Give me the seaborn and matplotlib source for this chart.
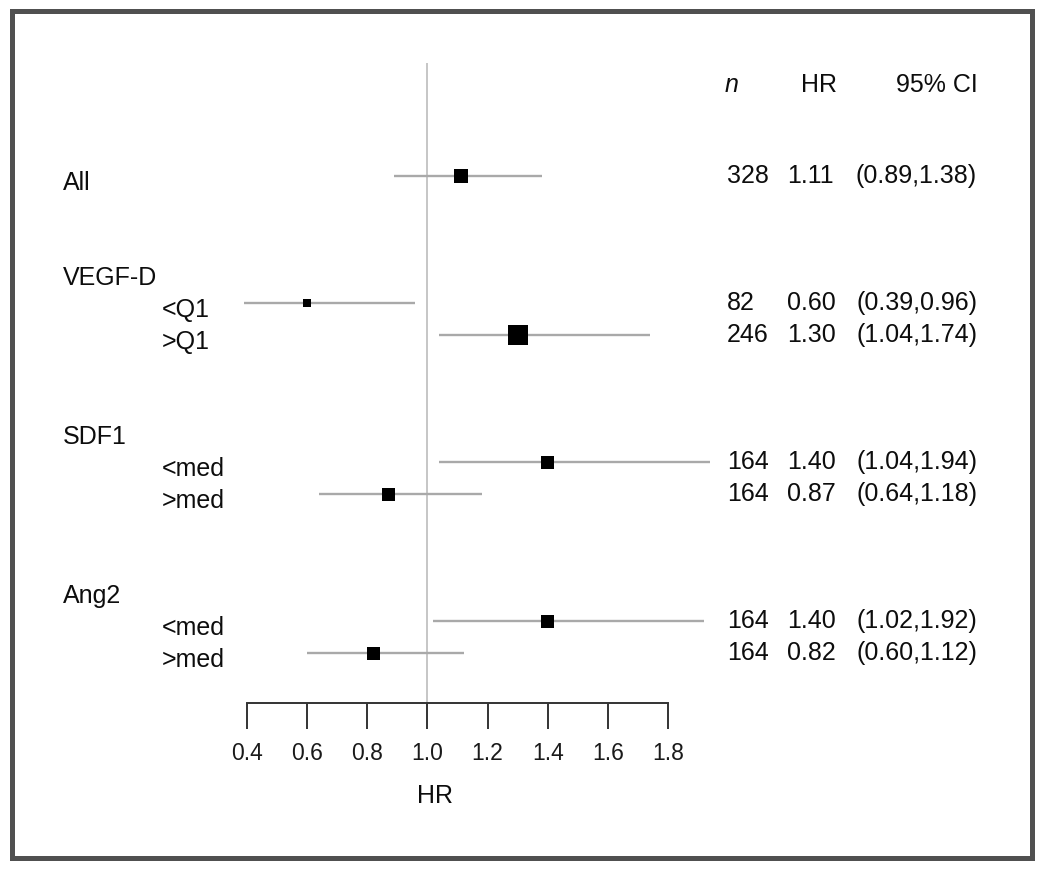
"""Forest plot: hazard ratios by biomarker subgroup."""

import matplotlib
matplotlib.use("Agg")
import matplotlib.pyplot as plt
import matplotlib.transforms as mtransforms
from matplotlib.patches import Rectangle
import numpy as np
import pandas as pd
import seaborn as sns

# ── data ──────────────────────────────────────────────────────────────────────
groups = ["All", "VEGF-D", "SDF1", "Ang2"]
sub_labels = [[], ["<Q1", ">Q1"], ["<med", ">med"], ["<med", ">med"]]
n_pts = [328, 82, 246, 164, 164, 164, 164]
hr = [1.11, 0.60, 1.30, 1.40, 0.87, 1.40, 0.82]
ci_lo = [0.89, 0.39, 1.04, 1.04, 0.64, 1.02, 0.60]
ci_hi = [1.38, 0.96, 1.74, 1.94, 1.18, 1.92, 1.12]
box_weight = [0.70, 0.40, 1.00, 0.65, 0.65, 0.65, 0.65]   # relative box size
x_ticks = [0.4, 0.6, 0.8, 1.0, 1.2, 1.4, 1.6, 1.8]

sns.set_style("white")
plt.rcParams["font.family"] = ["Liberation Sans", "DejaVu Sans"]

W, H = 1050, 875
fig = plt.figure(figsize=(W / 100, H / 100), dpi=100)
# axes spans the HR scale (px 247..668) and the rows (px 63..703)
ax = fig.add_axes([247 / W, (H - 703) / H, 421 / W, 640 / H])

# row layout: "All" first, then each group header followed by its subgroups
row_y, row_lab, head_y, head_lab = [], [], [], []
u = 0
row_y.append(u); row_lab.append("")
head_y.append(u); head_lab.append(groups[0])
for g, subs in zip(groups[1:], sub_labels[1:]):
    u += 3
    head_y.append(u); head_lab.append(g)
    for s in subs:
        u += 1
        row_y.append(u); row_lab.append(s)

df = pd.DataFrame({"hr": hr, "lo": ci_lo, "hi": ci_hi, "n": n_pts,
                   "y": row_y, "lab": row_lab,
                   "area": (np.array(box_weight) * 14.4) ** 2})

# reference line and confidence intervals
ax.axvline(1.0, color="#c6c6c6", lw=1.4, zorder=1)
ax.hlines(df["y"], df["lo"], df["hi"], color="#a9a9a9", lw=1.7, zorder=2, clip_on=False)
sns.scatterplot(data=df, x="hr", y="y", size="area",
                sizes=(df["area"].min(), df["area"].max()), marker="s",
                color="black", linewidth=0, legend=False, ax=ax, zorder=3, clip_on=False)

ax.set_xlim(0.4, 1.8)
ax.set_ylim(16.572, -3.553)
ax.set_yticks([])
ax.set_xticks(x_ticks)
ax.set_xticklabels([f"{t:.1f}" for t in x_ticks], fontsize=16.5, color="#1a1a1a")
ax.tick_params(axis="x", direction="out", length=19, width=1.4, color="#333333", pad=9,
               bottom=True)
for side in ["top", "left", "right"]:
    ax.spines[side].set_visible(False)
ax.spines["bottom"].set_color("#333333")
ax.spines["bottom"].set_linewidth(1.4)
ax.set_xlabel("")
ax.set_ylabel("")
fig.text(435 / W, 1 - 803 / H, "HR", ha="center", va="baseline", fontsize=18, color="#0d0d0d")

# text columns: figure-x, data-y
blend = mtransforms.blended_transform_factory(fig.transFigure, ax.transData)
left_tr = mtransforms.offset_copy(blend, fig=fig, y=-10.0, units="points")
right_tr = mtransforms.offset_copy(blend, fig=fig, y=-5.2, units="points")
kw = dict(fontsize=18, color="#0d0d0d", va="baseline")

for y, lab in zip(head_y, head_lab):
    ax.text(63 / W, y, lab, transform=left_tr, ha="left", **kw)
for _, r in df.iterrows():
    if r["lab"]:
        ax.text(162 / W, r["y"], r["lab"], transform=left_tr, ha="left", **kw)
    ax.text(727 / W, r["y"], f"{r['n']}", transform=right_tr, ha="left", **kw)
    ax.text(787 / W, r["y"], f"{r['hr']:.2f}", transform=right_tr, ha="left", **kw)
    ax.text(977 / W, r["y"], f"({r['lo']:.2f},{r['hi']:.2f})", transform=right_tr,
            ha="right", **kw)

# column headers
hdr_y = -2.65
ax.text(725 / W, hdr_y, "n", transform=blend, ha="left", style="italic", **kw)
ax.text(837 / W, hdr_y, "HR", transform=blend, ha="right", **kw)
ax.text(978 / W, hdr_y, "95% CI", transform=blend, ha="right", **kw)

# outer frame
fig.add_artist(Rectangle((11.5 / W, (H - 857.5) / H), (1032 - 11.5) / W, (857.5 - 11) / H,
                         transform=fig.transFigure, fill=False, edgecolor="#505050", lw=3.6))

fig.savefig("out.png", dpi=100)
plt.close(fig)
